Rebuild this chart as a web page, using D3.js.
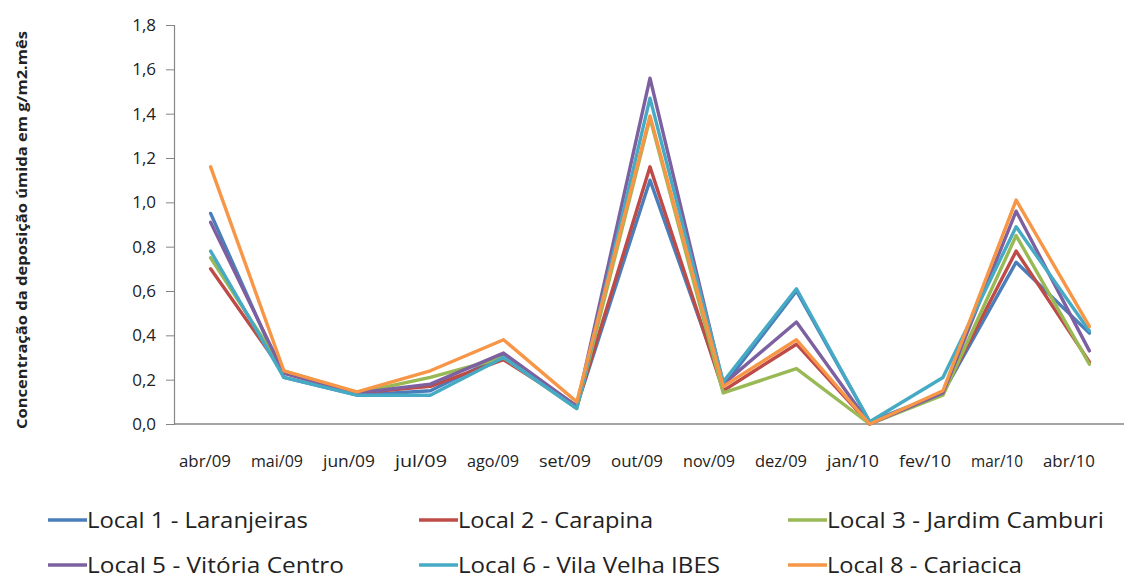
<!DOCTYPE html>
<html>
<head>
<meta charset="utf-8">
<script src="https://cdn.jsdelivr.net/npm/d3@7/dist/d3.min.js"></script>
<style>
  html, body { margin: 0; padding: 0; background: #fff; }
  svg { display: block; }
  text { font-family: "Open Sans", "Liberation Sans", sans-serif; fill: #222; }
</style>
</head>
<body>
<svg id="chart" width="1124" height="578"></svg>
<script>
// Monthly wet deposition (g/m2.month) per sampling site
const months = ["abr/09","mai/09","jun/09","jul/09","ago/09","set/09","out/09","nov/09","dez/09","jan/10","fev/10","mar/10","abr/10"];
const yTicks = [0, 0.2, 0.4, 0.6, 0.8, 1.0, 1.2, 1.4, 1.6, 1.8];

const local1 = [0.95, 0.21, 0.13, 0.15, 0.31, 0.08, 1.10, 0.17, 0.60, 0.01, 0.14, 0.73, 0.41];
const local2 = [0.70, 0.23, 0.14, 0.17, 0.29, 0.08, 1.16, 0.15, 0.36, 0.00, 0.14, 0.78, 0.28];
const local3 = [0.75, 0.24, 0.14, 0.21, 0.30, 0.07, 1.38, 0.14, 0.25, 0.00, 0.13, 0.85, 0.27];
const local5 = [0.91, 0.23, 0.14, 0.18, 0.32, 0.08, 1.56, 0.18, 0.46, 0.00, 0.14, 0.96, 0.33];
const local6 = [0.78, 0.21, 0.13, 0.13, 0.30, 0.07, 1.47, 0.19, 0.61, 0.01, 0.21, 0.89, 0.42];
const local8 = [1.16, 0.24, 0.145, 0.24, 0.38, 0.10, 1.39, 0.17, 0.38, 0.00, 0.15, 1.01, 0.44];

const seriesNames = ["Local 1 - Laranjeiras", "Local 2 - Carapina", "Local 3 - Jardim Camburi",
                     "Local 5 - Vitória Centro", "Local 6 - Vila Velha IBES", "Local 8 - Cariacica"];
const seriesValues = [local1, local2, local3, local5, local6, local8];
const colors = ["#4A7EBB", "#BE4B48", "#98B954", "#7D60A0", "#46AAC5", "#F79646"];
// Condensed widths for the legend labels
const legendWidths = [221, 195, 277, 257, 262, 195];

const series = seriesNames.map((name, i) => ({ name, values: seriesValues[i], color: colors[i], w: legendWidths[i] }));

const svg = d3.select("#chart");

const x = d3.scaleBand().domain(months).range([174, 1126]).paddingInner(0).paddingOuter(0);
const xc = d => x(d) + x.bandwidth() / 2;
const y = d3.scaleLinear().domain([0, 1.8]).range([424, 25]);

// Category labels sit slightly tighter than the plotted points
const xLabel = d3.scalePoint().domain(months).range([205, 1069]);

// Y axis
const yAxis = d3.axisLeft(y).tickValues(yTicks).tickSize(8).tickPadding(10)
  .tickFormat(d => d3.format(".1f")(d).replace(".", ","));
const gy = svg.append("g").attr("transform", "translate(174,0)").call(yAxis);
gy.select(".domain").attr("stroke", "#868686").attr("stroke-width", 1.2);
gy.selectAll(".tick line").attr("stroke", "#868686");
gy.selectAll(".tick text").attr("font-size", 17).attr("fill", "#222")
  .attr("font-family", "Open Sans, Liberation Sans, sans-serif");

// X axis baseline
svg.append("line")
  .attr("x1", 174).attr("x2", 1124)
  .attr("y1", y(0)).attr("y2", y(0))
  .attr("stroke", "#868686").attr("stroke-width", 1.5);

// X labels, slightly condensed
svg.append("g").selectAll("text").data(months).join("text")
  .attr("x", d => xLabel(d))
  .attr("y", 467)
  .attr("text-anchor", "middle")
  .attr("font-size", 16.5)
  .attr("textLength", 52)
  .attr("lengthAdjust", "spacingAndGlyphs")
  .text(d => d);

// Y axis title
svg.append("text")
  .attr("transform", "translate(27,230) rotate(-90)")
  .attr("text-anchor", "middle")
  .attr("font-size", 15)
  .attr("font-weight", "bold")
  .attr("textLength", 398)
  .attr("lengthAdjust", "spacingAndGlyphs")
  .text("Concentração da deposição úmida em g/m2.mês");

// Lines
const line = d3.line().x((d, i) => xc(months[i])).y(d => y(d));
svg.append("g").selectAll("path").data(series).join("path")
  .attr("d", d => line(d.values))
  .attr("fill", "none")
  .attr("stroke", d => d.color)
  .attr("stroke-width", 3.4)
  .attr("stroke-linejoin", "round")
  .attr("stroke-linecap", "round");

// Legend
const legCols = [48, 419, 788];
const legRows = [520, 565];
const leg = svg.append("g").selectAll("g").data(series).join("g")
  .attr("transform", (d, i) => `translate(${legCols[i % 3]},${legRows[Math.floor(i / 3)]})`);
leg.append("line").attr("x1", 0).attr("x2", 39).attr("y1", 0).attr("y2", 0)
  .attr("stroke", d => d.color).attr("stroke-width", 3.4);
leg.append("text").attr("x", 39).attr("y", 7.5).attr("font-size", 22)
  .attr("textLength", d => d.w).attr("lengthAdjust", "spacingAndGlyphs")
  .text(d => d.name);
</script>
</body>
</html>
